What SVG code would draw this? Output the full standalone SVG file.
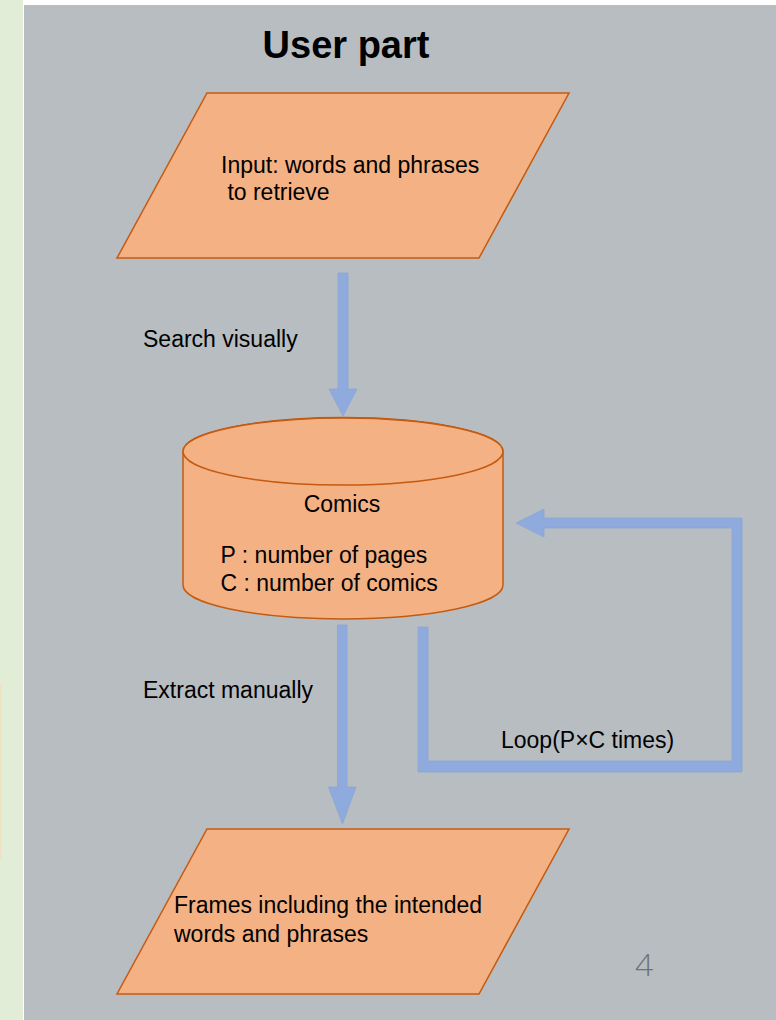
<svg xmlns="http://www.w3.org/2000/svg" width="776" height="1020" viewBox="0 0 776 1020">
  <defs>
    <style>
      .shape { fill: #f4b183; stroke: #c55a11; stroke-width: 1.5; }
      .label { font-family: "Liberation Sans", Arial, sans-serif; font-size: 23px; fill: #000; }
      .title { font-family: "Liberation Sans", Arial, sans-serif; font-size: 38px; font-weight: bold; fill: #000; }
      .flow { fill: #8faadc; stroke: #8aa5d6; stroke-width: 0.8; }
      .pagenum { font-family: "Open Sans", "Liberation Sans", sans-serif; font-weight: 300; font-size: 32px; fill: #6f7378; }
    </style>
  </defs>

  <!-- slide background -->
  <rect x="0" y="0" width="776" height="1020" fill="#ffffff"/>
  <rect x="0" y="0" width="23" height="1020" fill="#e2edd8"/>
  <rect x="0" y="683" width="2" height="177" fill="#efe3c4"/>
  <rect x="24" y="5" width="752" height="1015" fill="#b8bdc2"/>

  <text class="title" x="346" y="57.5" text-anchor="middle">User part</text>

  <!-- input parallelogram -->
  <g id="input">
    <polygon class="shape" points="207,93 569,93 479,258 117,258"/>
    <text class="label" x="221" y="173">Input: words and phrases</text>
    <text class="label" x="221" y="200" xml:space="preserve"> to retrieve</text>
  </g>

  <!-- comics database -->
  <g id="comics">
    <path class="shape" d="M183,451.5 L183,585 A160,34 0 0 0 503,585 L503,451.5 A160,34 0 0 0 183,451.5 Z"/>
    <ellipse class="shape" cx="343" cy="451.5" rx="160" ry="33.5"/>
    <text class="label" x="342" y="512" text-anchor="middle">Comics</text>
    <text class="label" x="220.5" y="563">P : number of pages</text>
    <text class="label" x="220.5" y="591">C : number of comics</text>
  </g>

  <!-- output parallelogram -->
  <g id="frames">
    <polygon class="shape" points="207,829 569,829 479,994 117,994"/>
    <text class="label" x="174" y="913">Frames including the intended</text>
    <text class="label" x="174" y="941.5">words and phrases</text>
  </g>

  <!-- connectors -->
  <g id="connectors">
    <!-- input to comics -->
    <polygon class="flow" points="338,273 348,273 348,389 357,389 343,416 329,389 338,389"/>
    <!-- comics to frames -->
    <polygon class="flow" points="337.5,625 347,625 347,787 356,787 342.5,824 328.5,787 337.5,787"/>
    <!-- loop back into comics -->
    <polygon class="flow" points="418,627 428,627 428,761 732,761 732,528 544,528 544,537 516,523 544,509 544,518 742,518 742,772 418,772"/>
  </g>

  <g id="edge-labels">
    <text class="label" x="143" y="346.5">Search visually</text>
    <text class="label" x="143" y="698">Extract manually</text>
    <text class="label" x="501" y="748">Loop(P×C times)</text>
  </g>

  <text class="pagenum" x="635" y="976">4</text>
</svg>
